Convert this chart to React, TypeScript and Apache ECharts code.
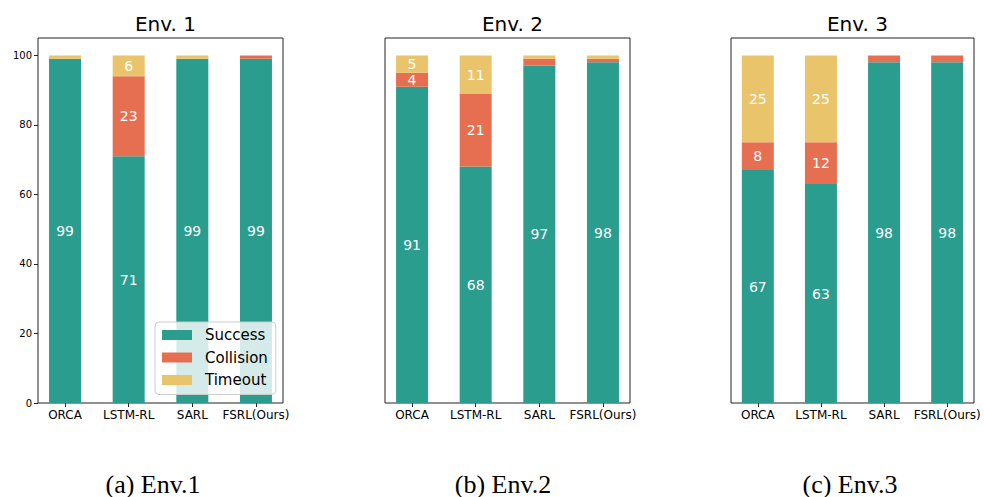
import React, { useEffect, useRef } from "react";
import * as echarts from "echarts";

const categories = ["ORCA", "LSTM-RL", "SARL", "FSRL(Ours)"];
const envTitles = ["Env. 1", "Env. 2", "Env. 3"];
const captions = ["(a) Env.1", "(b) Env.2", "(c) Env.3"];

const successEnv1 = [99, 71, 99, 99];
const collisionEnv1 = [0, 23, 0, 1];
const timeoutEnv1 = [1, 6, 1, 0];

const successEnv2 = [91, 68, 97, 98];
const collisionEnv2 = [4, 21, 2, 1];
const timeoutEnv2 = [5, 11, 1, 1];

const successEnv3 = [67, 63, 98, 98];
const collisionEnv3 = [8, 12, 2, 2];
const timeoutEnv3 = [25, 25, 0, 0];

const yTicks = [0, 20, 40, 60, 80, 100];

const envData = [
  [successEnv1, collisionEnv1, timeoutEnv1],
  [successEnv2, collisionEnv2, timeoutEnv2],
  [successEnv3, collisionEnv3, timeoutEnv3],
];
const seriesNames = ["Success", "Collision", "Timeout"];
const colors = ["#2a9d8f", "#e76f51", "#e9c46a"];

const gridLefts = [38, 385, 731];
const gridWidths = [245, 245, 243];
const captionCenters = [153, 503, 850];
const gridTop = 38;
const gridBottom = 94;
const FONT = "DejaVu Sans";

export default function App() {
  const ref = useRef<HTMLDivElement>(null);
  useEffect(() => {
    if (!ref.current) return;
    const chart = echarts.init(ref.current, null, { renderer: "svg" });
    const grids: any[] = [];
    const xAxes: any[] = [];
    const yAxes: any[] = [];
    const series: any[] = [];
    const titles: any[] = [];
    const graphics: any[] = [];
    envData.forEach((env, gi) => {
      grids.push({
        left: gridLefts[gi],
        width: gridWidths[gi],
        top: gridTop,
        bottom: gridBottom,
        show: true,
        borderColor: "#222",
        borderWidth: 1,
        backgroundColor: "transparent",
      });
      xAxes.push({
        gridIndex: gi,
        type: "value",
        min: -0.425,
        max: 3.425,
        splitLine: { show: false },
        axisLine: { show: false, onZero: false },
        axisTick: {
          show: true,
          customValues: [0, 1, 2, 3],
          length: 4,
          lineStyle: { color: "#222" },
        },
        axisLabel: {
          customValues: [0, 1, 2, 3],
          formatter: (v: number) => categories[Math.round(v)] ?? "",
          color: "#000",
          fontSize: 12,
          fontFamily: FONT,
          margin: 6,
        },
      });
      yAxes.push({
        gridIndex: gi,
        type: "value",
        min: 0,
        max: 105,
        splitLine: { show: false },
        axisLine: { show: false, onZero: false },
        axisTick: {
          show: gi === 0,
          customValues: yTicks,
          length: 4,
          lineStyle: { color: "#222" },
        },
        axisLabel: {
          show: gi === 0,
          customValues: yTicks,
          color: "#000",
          fontSize: 10,
          fontFamily: FONT,
          margin: 6,
        },
      });
      env.forEach((vals, si) => {
        series.push({
          type: "bar",
          name: seriesNames[si],
          xAxisIndex: gi,
          yAxisIndex: gi,
          stack: "env" + gi,
          barWidth: 32,
          dimensions: ["val", "pos"],
          encode: { x: "pos", y: "val" },
          itemStyle: { color: colors[si] },
          label: {
            show: true,
            position: "inside",
            color: "#fff",
            fontSize: 14,
            fontFamily: FONT,
            formatter: (p: any) => (vals[p.dataIndex] >= 4 ? String(vals[p.dataIndex]) : ""),
          },
          data: vals.map((v, i) => (v > 0 ? [v, i] : ["-", i])),
        });
      });
      const cx = gridLefts[gi] + gridWidths[gi] / 2;
      titles.push({
        text: envTitles[gi],
        left: cx,
        top: 9,
        textAlign: "center",
        textStyle: { fontSize: 20, fontWeight: "normal", color: "#000", fontFamily: FONT },
      });
      graphics.push({
        type: "text",
        x: captionCenters[gi],
        y: 484,
        style: {
          text: captions[gi],
          fontSize: 26,
          fontFamily: "Liberation Serif",
          fill: "#000",
          textAlign: "center",
          textVerticalAlign: "middle",
        },
      });
    });
    chart.setOption({
      animation: false,
      title: titles,
      grid: grids,
      xAxis: xAxes,
      yAxis: yAxes,
      series,
      graphic: graphics,
      legend: {
        data: seriesNames,
        orient: "vertical",
        left: 155,
        top: 322,
        itemWidth: 30,
        itemHeight: 10,
        itemGap: 7.5,
        icon: "rect",
        padding: [5.5, 8, 7, 7],
        backgroundColor: "rgba(255,255,255,0.8)",
        borderColor: "#ccc",
        borderWidth: 1,
        borderRadius: 4,
        textStyle: {
          fontSize: 15,
          lineHeight: 15,
          color: "#000",
          fontFamily: FONT,
          padding: [0, 0, 0, 8],
        },
      },
    });
    return () => chart.dispose();
  }, []);
  return (
    <div
      ref={ref}
      style={{ position: "fixed", left: 0, top: 0, width: 984, height: 497, background: "#fff" }}
    />
  );
}
